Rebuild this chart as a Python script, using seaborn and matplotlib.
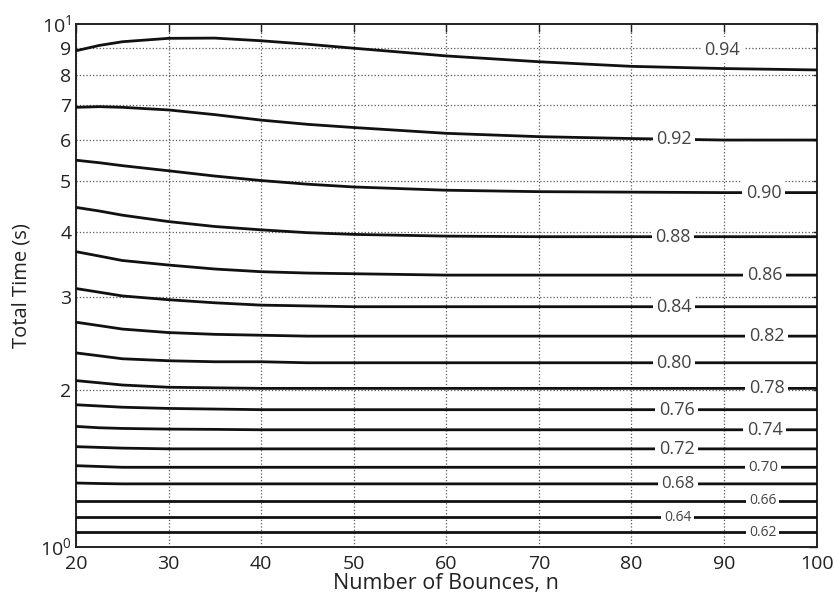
import numpy as np
import pandas as pd
import seaborn as sns
import matplotlib.pyplot as plt
from matplotlib.ticker import FixedLocator, FuncFormatter

# values
n_pts = [20, 22.5, 25, 30, 35, 40, 45, 50, 60, 70, 80, 90, 100]

t_094 = [8.89, 9.10, 9.25, 9.39, 9.40, 9.29, 9.15, 8.99, 8.69, 8.47, 8.30, 8.22, 8.17]
t_092 = [6.93, 6.95, 6.93, 6.85, 6.71, 6.55, 6.43, 6.34, 6.18, 6.09, 6.04, 6.00, 6.00]
t_090 = [5.49, 5.43, 5.36, 5.24, 5.12, 5.02, 4.94, 4.88, 4.81, 4.78, 4.77, 4.76, 4.76]
t_088 = [4.46, 4.39, 4.31, 4.19, 4.10, 4.04, 3.99, 3.96, 3.93, 3.92, 3.92, 3.92, 3.92]
t_086 = [3.67, 3.60, 3.53, 3.46, 3.40, 3.36, 3.34, 3.33, 3.31, 3.31, 3.31, 3.31, 3.31]
t_084 = [3.12, 3.07, 3.02, 2.97, 2.93, 2.90, 2.89, 2.88, 2.88, 2.88, 2.88, 2.88, 2.88]
t_082 = [2.69, 2.65, 2.61, 2.57, 2.55, 2.54, 2.53, 2.53, 2.53, 2.53, 2.53, 2.53, 2.53]
t_080 = [2.35, 2.32, 2.29, 2.27, 2.26, 2.26, 2.25, 2.25, 2.25, 2.25, 2.25, 2.25, 2.25]
t_078 = [2.08, 2.06, 2.04, 2.02, 2.015, 2.01, 2.01, 2.01, 2.01, 2.01, 2.01, 2.01, 2.01]
t_076 = [1.87, 1.86, 1.85, 1.84, 1.835, 1.83, 1.83, 1.83, 1.83, 1.83, 1.83, 1.83, 1.83]
t_074 = [1.70, 1.69, 1.685, 1.68, 1.678, 1.675, 1.675, 1.675, 1.675, 1.675, 1.675, 1.675, 1.675]
t_072 = [1.555, 1.55, 1.545, 1.54, 1.54, 1.54, 1.54, 1.54, 1.54, 1.54, 1.54, 1.54, 1.54]
t_070 = [1.43, 1.425, 1.42, 1.42, 1.42, 1.42, 1.42, 1.42, 1.42, 1.42, 1.42, 1.42, 1.42]
t_068 = [1.325, 1.322, 1.32, 1.32, 1.32, 1.32, 1.32, 1.32, 1.32, 1.32, 1.32, 1.32, 1.32]
t_066 = [1.225, 1.225, 1.225, 1.225, 1.225, 1.225, 1.225, 1.225, 1.225, 1.225, 1.225, 1.225, 1.225]
t_064 = [1.14, 1.14, 1.14, 1.14, 1.14, 1.14, 1.14, 1.14, 1.14, 1.14, 1.14, 1.14, 1.14]
t_062 = [1.067, 1.067, 1.067, 1.067, 1.067, 1.067, 1.067, 1.067, 1.067, 1.067, 1.067, 1.067, 1.067]

e_values = ["0.94", "0.92", "0.90", "0.88", "0.86", "0.84", "0.82", "0.80", "0.78",
            "0.76", "0.74", "0.72", "0.70", "0.68", "0.66", "0.64", "0.62"]
t_curves = [t_094, t_092, t_090, t_088, t_086, t_084, t_082, t_080, t_078,
            t_076, t_074, t_072, t_070, t_068, t_066, t_064, t_062]

# where the inline labels sit along n
label_n = [89.8, 84.6, 94.3, 84.5, 94.4, 84.6, 94.6, 84.6, 94.6,
           84.9, 94.4, 84.9, 94.2, 85.0, 94.2, 85.0, 94.2]
label_size = [13, 13, 13, 13, 13, 13, 13, 13, 13, 13, 13, 13, 11, 12, 10, 10, 10]

df = pd.concat([pd.DataFrame({"n": n_pts, "T": t, "e": e})
                for e, t in zip(e_values, t_curves)], ignore_index=True)

sns.set_style("white", {"xtick.direction": "in", "ytick.direction": "in"})
plt.rcParams['font.family'] = ['Open Sans', 'DejaVu Sans']
plt.rcParams['mathtext.fontset'] = 'custom'
plt.rcParams['mathtext.rm'] = 'Open Sans'

fig = plt.figure(figsize=(8.35, 6.01), dpi=100)
ax = fig.add_axes([0.091, 0.090, 0.887, 0.870])

sns.lineplot(data=df, x="n", y="T", hue="e", units="e", estimator=None,
             palette=["#111111"] * len(e_values), linewidth=2.0, legend=False,
             ax=ax, zorder=3)

ax.set_yscale("log")
ax.set_xlim(20, 100)
ax.set_ylim(1, 10)

ax.xaxis.set_major_locator(FixedLocator(range(20, 101, 10)))
ax.yaxis.set_major_locator(FixedLocator([1, 10]))
ax.yaxis.set_minor_locator(FixedLocator(range(2, 10)))
ax.yaxis.set_major_formatter(FuncFormatter(lambda v, p: r"$10^{%d}$" % round(np.log10(v))))
ax.yaxis.set_minor_formatter(FuncFormatter(lambda v, p: "%d" % v))

ax.grid(True, which="major", axis="x", linestyle=":", color="0.35", linewidth=0.9, zorder=1)
ax.grid(True, which="minor", axis="y", linestyle=":", color="0.35", linewidth=0.9, zorder=1)
ax.grid(False, which="major", axis="y")

ax.tick_params(which="both", top=True, right=True, direction="in",
               colors="#222222", labelsize=14, width=1.0)
ax.tick_params(which="major", length=6)
ax.tick_params(which="minor", length=3)
ax.tick_params(axis="x", pad=6)
for s in ax.spines.values():
    s.set_color("#222222")
    s.set_linewidth(1.4)

ax.set_xlabel("Number of Bounces, n", fontsize=15.5, color="#222222", labelpad=0)
ax.set_ylabel("Total Time (s)", fontsize=14.5, color="#222222", labelpad=6)

for e, t, xl, fs in zip(e_values, t_curves, label_n, label_size):
    yl = np.interp(xl, n_pts, t)
    if e == "0.94":
        yl = 8.92
    ax.text(xl, yl, e, ha="center", va="center", fontsize=fs, color="#444444",
            zorder=4, bbox=dict(boxstyle="square,pad=0.2", fc="white", ec="none"))

fig.savefig("out.png", dpi=100)
